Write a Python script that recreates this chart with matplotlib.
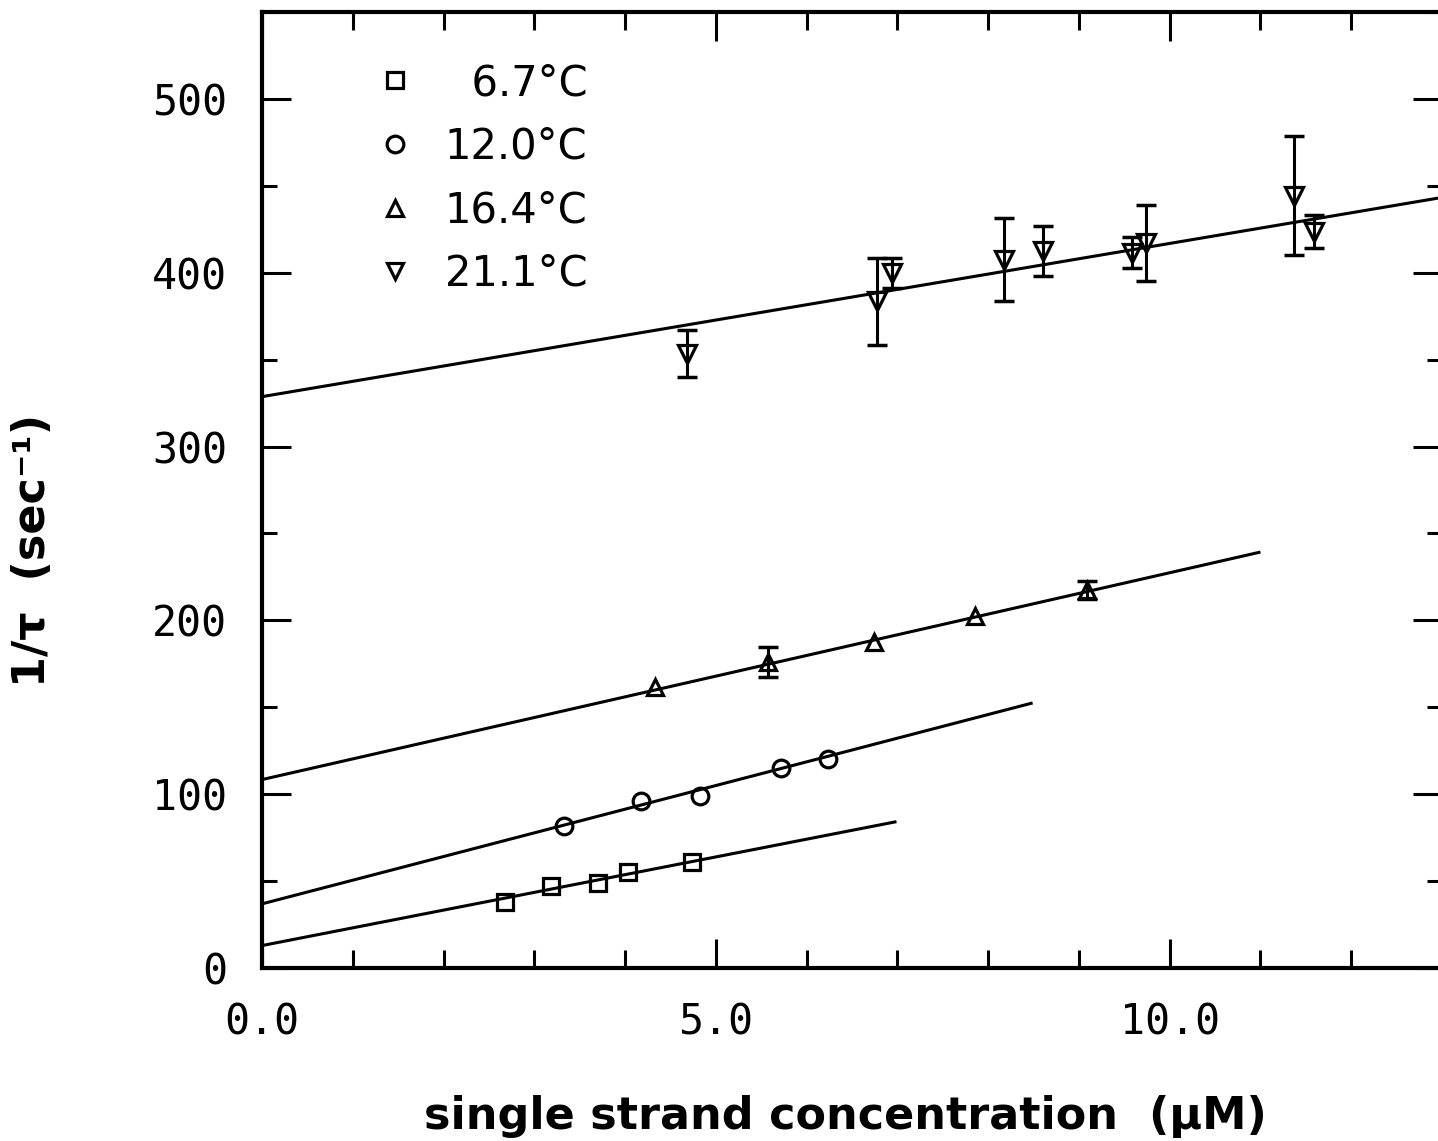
import numpy as np
import matplotlib
matplotlib.use("Agg")
import matplotlib.pyplot as plt
from matplotlib.lines import Line2D
from matplotlib.ticker import MultipleLocator, FixedLocator, FixedFormatter

# ---- data ----
labels = ["\u20076.7°C", "12.0°C", "16.4°C", "21.1°C"]
markers = ["s", "o", "^", "v"]

sq_x = [2.68, 3.18, 3.70, 4.03, 4.74]
sq_y = [38.1, 47.3, 49.0, 55.4, 61.1]
sq_err = [0, 0, 0, 0, 0]

ci_x = [3.33, 4.17, 4.82, 5.72, 6.24]
ci_y = [81.9, 96.3, 99.2, 115.3, 120.5]
ci_err = [0, 0, 0, 0, 0]

tr_x = [4.33, 5.58, 6.74, 7.86, 9.09]
tr_y = [161.5, 175.9, 187.4, 202.4, 217.5]
tr_err = [0, 8.6, 0, 0, 5.2]

iv_x = [4.68, 6.78, 6.94, 8.18, 8.60, 9.58, 9.74, 11.37, 11.59]
iv_y = [353.5, 383.5, 399.7, 407.4, 412.3, 411.5, 417.0, 444.3, 423.6]
iv_err = [13.3, 24.8, 8.7, 23.9, 14.4, 9.0, 21.9, 34.3, 9.5]

# fitted lines: endpoints (x, y)
fit_x = [[0.0, 6.99], [0.0, 8.49], [0.0, 11.0], [0.0, 13.0]]
fit_y = [[12.9, 84.2], [36.9, 152.5], [108.4, 239.3], [328.7, 443.3]]

x_major = [0.0, 5.0, 10.0]
x_major_labels = ["0.0", "5.0", "10.0"]
y_major = [0, 100, 200, 300, 400, 500]
y_major_labels = ["0", "100", "200", "300", "400", "500"]

series = [
    (sq_x, sq_y, sq_err),
    (ci_x, ci_y, ci_err),
    (tr_x, tr_y, tr_err),
    (iv_x, iv_y, iv_err),
]
msizes = [12, 12, 12, 13]

W, H = 1438, 1141
fig = plt.figure(figsize=(W / 100, H / 100), dpi=100)
fig.patch.set_facecolor("white")
ax = fig.add_axes([262 / W, (H - 968) / H, (1442 - 262) / W, (968 - 12) / H])
ax.set_xlim(0, 13)
ax.set_ylim(0, 550)

for (xs, ys, es), fx, fy, m, ms in zip(series, fit_x, fit_y, markers, msizes):
    ax.plot(fx, fy, color="black", lw=2.2, solid_capstyle="butt", zorder=2)
    xs = np.asarray(xs); ys = np.asarray(ys); es = np.asarray(es)
    msk = es > 0
    if msk.any():
        ax.errorbar(xs[msk], ys[msk], yerr=es[msk], fmt="none", ecolor="black",
                    elinewidth=2.2, capsize=7, capthick=2.5, zorder=3)
    ax.plot(xs, ys, linestyle="none", marker=m, markersize=ms,
            markerfacecolor="none", markeredgecolor="black",
            markeredgewidth=2.3, zorder=4)

# axes styling
for s in ax.spines.values():
    s.set_linewidth(3)
ax.xaxis.set_major_locator(FixedLocator(x_major))
ax.xaxis.set_major_formatter(FixedFormatter(x_major_labels))
ax.xaxis.set_minor_locator(MultipleLocator(1.0))
ax.yaxis.set_major_locator(FixedLocator(y_major))
ax.yaxis.set_major_formatter(FixedFormatter(y_major_labels))
ax.yaxis.set_minor_locator(MultipleLocator(50))
ax.tick_params(which="both", direction="in", top=True, right=True, width=2.2,
               colors="black")
ax.tick_params(which="major", length=21)
ax.tick_params(axis="x", which="minor", length=13)
ax.tick_params(axis="y", which="minor", length=11)
ax.tick_params(axis="x", which="major", pad=24)
ax.tick_params(axis="y", which="major", pad=25)
for lab in ax.get_xticklabels() + ax.get_yticklabels():
    lab.set_fontfamily("DejaVu Sans Mono")
    lab.set_fontsize(30)

# legend
handles = [Line2D([], [], linestyle="none", marker=m, markersize=12,
                  markerfacecolor="none", markeredgecolor="black",
                  markeredgewidth=2.3) for m in markers]
leg = ax.legend(handles, labels, loc="upper left",
                bbox_to_anchor=((374 - 262) / 1180, (968 - 62) / 956),
                frameon=False, borderpad=0, borderaxespad=0,
                handlelength=1.0, handletextpad=0.7, labelspacing=0.52,
                prop={"family": "DejaVu Sans", "size": 30})

fig.text(845 / W, 1 - 1116 / H, "single strand concentration  (µM)",
         ha="center", va="center", fontsize=32, fontweight="bold",
         family="DejaVu Sans")
fig.text(33 / W, 1 - 550 / H, "1/τ  (sec\u207b\u00b9)", rotation=90,
         ha="center", va="center", fontsize=32, fontweight="bold",
         family="DejaVu Sans")

fig.savefig("out.png", dpi=100, facecolor="white")
